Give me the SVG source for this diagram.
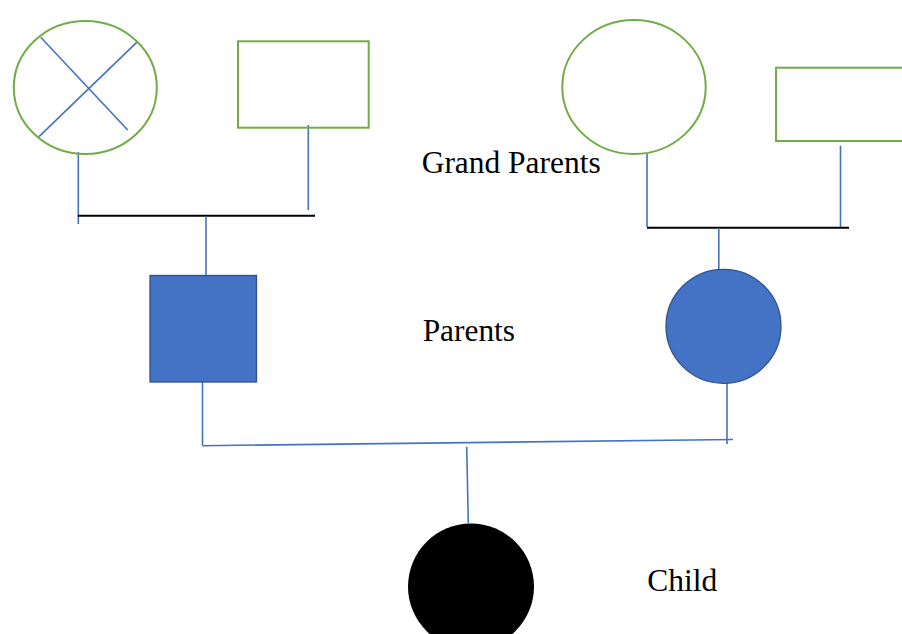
<svg xmlns="http://www.w3.org/2000/svg" width="902" height="634" viewBox="0 0 902 634">
<style>
.g{fill:none;stroke:#70AD47;stroke-width:2}
.b{fill:none;stroke:#4472C4;stroke-width:1.6}
.k{fill:none;stroke:#000;stroke-width:2}
.f{fill:#4472C4;stroke:#2F528F;stroke-width:1.3}
.t{font-family:"Liberation Serif","Times New Roman",serif;font-size:31px;fill:#000}
</style>
<rect width="902" height="634" fill="#fff"/>
<g id="connectors">
<line class="b" x1="78.3" y1="152" x2="78.3" y2="224"/>
<line class="b" x1="308.3" y1="125" x2="308.3" y2="210"/>
<line class="k" x1="77.7" y1="215.7" x2="315" y2="215.7"/>
<line class="b" x1="206" y1="216" x2="206" y2="275"/>
<line class="b" x1="647" y1="154" x2="647" y2="227"/>
<line class="b" x1="840.5" y1="145.7" x2="840.5" y2="228"/>
<line class="k" x1="647" y1="227.7" x2="849" y2="227.7"/>
<line class="b" x1="718.8" y1="228" x2="718.8" y2="269"/>
<line class="b" x1="202.5" y1="382" x2="202.5" y2="445.5"/>
<line class="b" x1="727" y1="383" x2="727" y2="444"/>
<line class="b" x1="202.5" y1="445.7" x2="733" y2="439.5"/>
<line class="b" x1="466.7" y1="446.7" x2="468.3" y2="523"/>
</g>
<g id="gp-female-deceased">
<ellipse class="g" cx="85.3" cy="87.5" rx="71.5" ry="66.5"/>
<line class="b" x1="40.7" y1="37.3" x2="127.7" y2="130"/>
<line class="b" x1="136.7" y1="42.3" x2="39" y2="136.7"/>
</g>
<g id="gp-male-left">
<rect class="g" x="238" y="41.3" width="130.7" height="86.4"/>
</g>
<g id="gp-female-right">
<ellipse class="g" cx="634" cy="87" rx="71.7" ry="67"/>
</g>
<g id="gp-male-right">
<rect class="g" x="776" y="67.7" width="140" height="73.3"/>
</g>
<g id="parent-male">
<rect class="f" x="150" y="275.5" width="106.5" height="106.5"/>
</g>
<g id="parent-female">
<ellipse class="f" cx="723.5" cy="326.3" rx="57.5" ry="57"/>
</g>
<g id="child">
<circle cx="471" cy="586.5" r="63" fill="#000"/>
</g>
<g id="labels">
<text class="t" x="421.7" y="173.3" textLength="179" lengthAdjust="spacingAndGlyphs">Grand Parents</text>
<text class="t" x="422.7" y="340.7" textLength="92.3" lengthAdjust="spacingAndGlyphs">Parents</text>
<text class="t" x="647.3" y="590.7" textLength="70" lengthAdjust="spacingAndGlyphs">Child</text>
</g>
</svg>
